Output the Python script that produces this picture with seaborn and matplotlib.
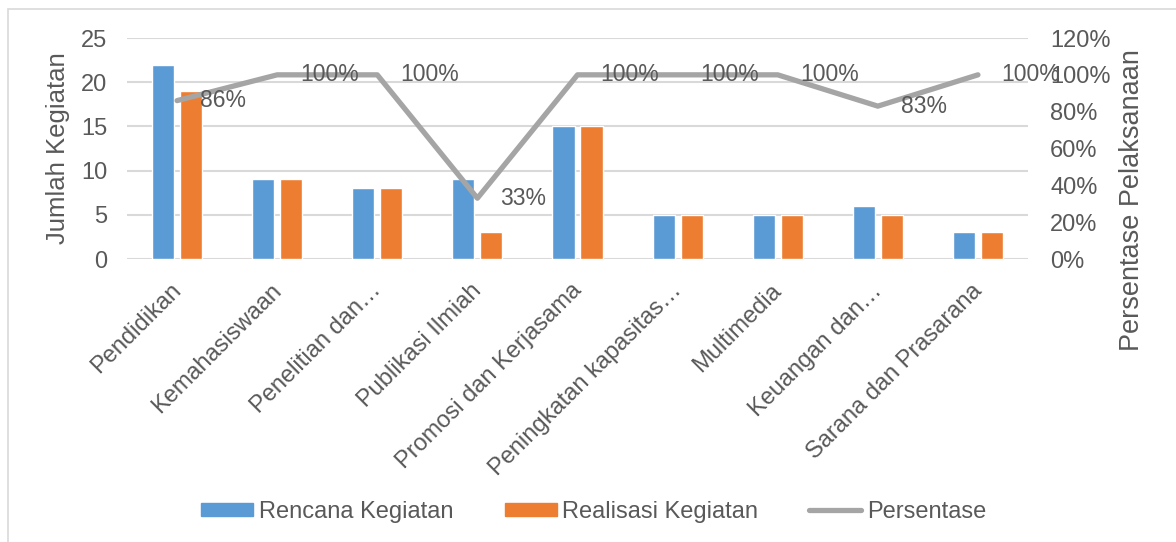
import matplotlib
matplotlib.use('Agg')
import matplotlib.pyplot as plt
import matplotlib.patches as patches
import matplotlib.transforms as mtransforms
from matplotlib.lines import Line2D
from matplotlib.ticker import PercentFormatter
import seaborn as sns
import numpy as np
import pandas as pd

categories = ['Pendidikan', 'Kemahasiswaan', 'Penelitian dan…', 'Publikasi Ilmiah',
              'Promosi dan Kerjasama', 'Peningkatan kapasitas…', 'Multimedia',
              'Keuangan dan…', 'Sarana dan Prasarana']
rencana = [22, 9, 8, 9, 15, 5, 5, 6, 3]
realisasi = [19, 9, 8, 3, 15, 5, 5, 5, 3]
persentase = [0.86, 1.00, 1.00, 0.33, 1.00, 1.00, 1.00, 0.83, 1.00]
series_names = ['Rencana Kegiatan', 'Realisasi Kegiatan', 'Persentase']

text_col = '#595959'
grid_col = '#D9D9D9'
blue, orange, gray = '#5B9BD5', '#ED7D31', '#A5A5A5'

sns.set_style('white')
plt.rcParams['font.family'] = ['Liberation Sans', 'DejaVu Sans']

df = pd.DataFrame({
    'kategori': categories * 2,
    'jumlah': rencana + realisasi,
    'seri': [series_names[0]] * len(categories) + [series_names[1]] * len(categories),
})

fig = plt.figure(figsize=(11.76, 5.42), dpi=100)
ax = fig.add_axes([127 / 1176, 1 - 259 / 542, 901 / 1176, 221 / 542])

sns.barplot(data=df, x='kategori', y='jumlah', hue='seri', order=categories,
            palette=[blue, orange], width=0.56, gap=0.21, saturation=1,
            legend=False, ax=ax)

ax.set_ylim(0, 25)
ax.set_yticks(range(0, 26, 5))
ax.set_xlim(-0.5, len(categories) - 0.5)
ax.grid(axis='y', color=grid_col, linewidth=1.5)
ax.set_axisbelow(True)
for s in ax.spines.values():
    s.set_visible(False)
ax.tick_params(axis='y', length=0, pad=14, labelsize=17, labelcolor=text_col)
ax.tick_params(axis='x', length=0, pad=4, labelsize=17, labelcolor=text_col)
ax.set_xticks(range(len(categories)))
ax.set_xticklabels(categories, rotation=45, ha='right', rotation_mode='anchor')
# geser label kategori supaya ujungnya pas seperti di Excel
shift = mtransforms.ScaledTranslation(-0.07, -0.15, fig.dpi_scale_trans)
for lbl in ax.get_xticklabels():
    lbl.set_transform(lbl.get_transform() + shift)
ax.set_xlabel('')
ax.set_ylabel('Jumlah Kegiatan', fontsize=18.5, color=text_col)
ax.yaxis.set_label_coords(-0.063, 0.5)

ax2 = ax.twinx()
xpos = np.arange(len(categories))
sns.lineplot(x=xpos, y=persentase, color=gray, linewidth=3.8, ax=ax2)
ax2.set_ylim(0, 1.2)
ax2.set_yticks(np.arange(0, 1.21, 0.2))
ax2.yaxis.set_major_formatter(PercentFormatter(1.0, decimals=0))
for s in ax2.spines.values():
    s.set_visible(False)
ax2.tick_params(axis='y', length=0, pad=16, labelsize=17, labelcolor=text_col)
ax2.set_ylabel('Persentase Pelaksanaan', fontsize=19.5, color=text_col)
ax2.yaxis.set_label_coords(1.101, 0.267)

for i, p in enumerate(persentase):
    ax2.annotate(f'{p:.0%}', (xpos[i], p), xytext=(23, 0), textcoords='offset pixels',
                 ha='left', va='center', fontsize=16.5, color=text_col)

handles = [patches.Patch(color=blue), patches.Patch(color=orange),
           Line2D([], [], color=gray, linewidth=3.8, solid_capstyle='round')]
fig.legend(handles, series_names, loc='center', bbox_to_anchor=(0.505, 1 - 512 / 542),
           ncol=3, frameon=False, labelcolor=text_col, fontsize=17,
           handlelength=2.2, handleheight=0.5, handletextpad=0.25, columnspacing=2.15)

fig.patches.append(patches.Rectangle((8 / 1176, -0.01), 1.02, 1 - 9 / 542 + 0.01,
                                     transform=fig.transFigure, fill=False,
                                     edgecolor=grid_col, linewidth=1.2))

fig.savefig('out.png', dpi=100)
